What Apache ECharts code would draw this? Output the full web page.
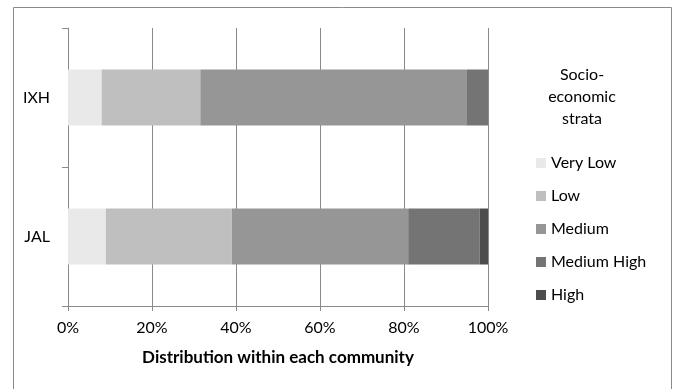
<!DOCTYPE html>
<html><head><meta charset="utf-8">
<script src="https://cdn.jsdelivr.net/npm/echarts@6/dist/echarts.min.js"></script>
<style>html,body{margin:0;padding:0;background:#fff}#c{width:676px;height:389px}</style>
</head><body><div id="c"></div>
<script>
const categories = ['IXH', 'JAL'];
const strata = ['Very Low', 'Low', 'Medium', 'Medium High', 'High'];
const veryLow = [8, 9];
const low = [23.5, 30];
const medium = [63.5, 42];
const mediumHigh = [5, 17];
const high = [0, 2];
const xTicks = [0, 20, 40, 60, 80, 100];
const colors = ['#e9e9e9', '#bfbfbf', '#969696', '#747474', '#4d4d4d'];
const seriesValues = [veryLow, low, medium, mediumHigh, high];

const font = 'Lato, "Open Sans", sans-serif';
const chart = echarts.init(document.getElementById('c'));
chart.setOption({
  animation: false,
  textStyle: { fontFamily: font },
  graphic: [
    { type: 'rect', shape: { x: 13.5, y: 7.5, width: 658, height: 420 },
      style: { fill: 'none', stroke: '#8a8a8a', lineWidth: 1 }, silent: true },
    { type: 'text', x: 582, y: 64,
      style: { text: 'Socio-\neconomic\nstrata', fill: '#000', font: '16px ' + font,
               textAlign: 'center', lineHeight: 22 } }
  ],
  grid: { left: 68, right: 188, top: 28, bottom: 83 },
  legend: {
    orient: 'vertical', left: 531, top: 150,
    itemWidth: 10, itemHeight: 10, itemGap: 17,
    icon: 'rect',
    textStyle: { fontFamily: font, fontSize: 16, color: '#000', lineHeight: 16 },
    data: strata
  },
  xAxis: {
    type: 'value', min: 0, max: 100, interval: 20,
    axisLine: { show: true, lineStyle: { color: '#8a8a8a' } },
    axisTick: { show: true, length: 5, lineStyle: { color: '#8a8a8a' } },
    splitLine: { show: true, lineStyle: { color: '#8a8a8a', width: 1 } },
    axisLabel: { formatter: '{value}%', color: '#000', fontSize: 16, margin: 14, fontFamily: font },
    name: 'Distribution within each community', nameLocation: 'middle', nameGap: 43,
    nameTextStyle: { fontWeight: 'bold', fontSize: 17, color: '#000', fontFamily: font }
  },
  yAxis: {
    type: 'category', data: categories, inverse: true,
    axisLine: { show: true, lineStyle: { color: '#8a8a8a' } },
    axisTick: { show: true, length: 6, lineStyle: { color: '#8a8a8a' } },
    axisLabel: { color: '#000', fontSize: 16, margin: 18, fontFamily: font }
  },
  series: strata.map((name, i) => ({
    name, type: 'bar', stack: 'total', barWidth: 56,
    itemStyle: { color: colors[i] },
    data: seriesValues[i]
  }))
});
</script></body></html>
